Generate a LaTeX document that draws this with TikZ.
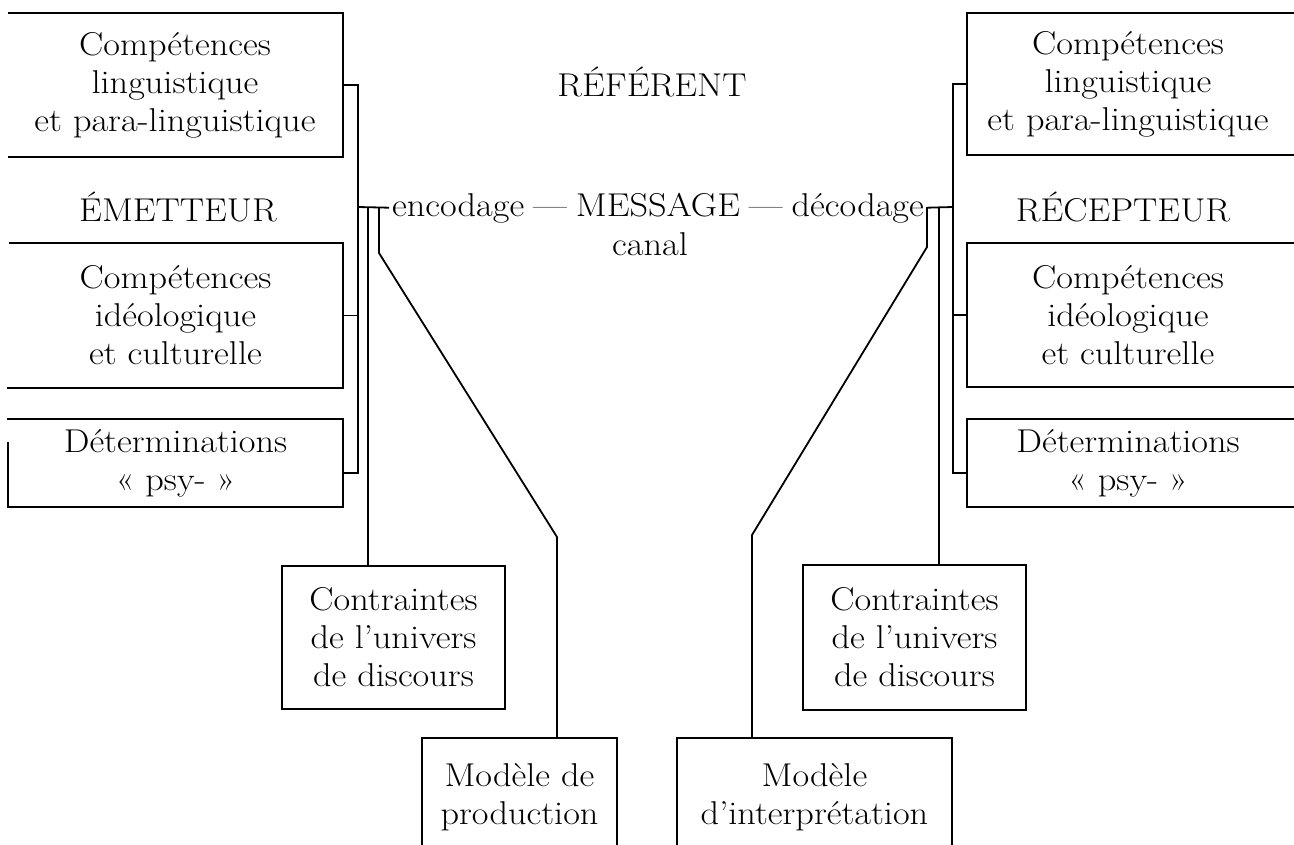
\documentclass[tikz,border=0pt]{standalone}
\usepackage{fontspec}
\setmainfont{Latin Modern Roman}[FakeStretch=1.1]
\usetikzlibrary{calc}
\begin{document}
\begin{tikzpicture}[x=1pt,y=-1pt,
  every node/.style={inner sep=0pt, outer sep=0pt},
  txt/.style={font=\fontsize{33}{38}\selectfont, align=center},
  box/.style={txt, rectangle},
  edge/.style={line width=1.8pt, line join=miter, line cap=rect},
  conn/.style={line width=1.8pt, line join=miter}]
\useasboundingbox (0,0) rectangle (1294,844);

% left column
\node[box, minimum width=336pt, minimum height=144pt] (L1) at (175,85)
  {Compétences\\linguistique\\et para-linguistique};
\node[txt] (emet) at (178,207) {ÉMETTEUR};
\node[box, minimum width=335pt, minimum height=145pt] (L2) at (175.5,315.5)
  {Compétences\\idéologique\\et culturelle};
\node[box, minimum width=335pt, minimum height=88pt] (L3) at (175.5,463)
  {Déterminations\\« psy- »};

% right column
\node[box, minimum width=322pt, minimum height=142pt] (R1) at (1128,84)
  {Compétences\\linguistique\\et para-linguistique};
\node[txt] (recep) at (1123,207) {RÉCEPTEUR};
\node[box, minimum width=322pt, minimum height=144pt] (R2) at (1128,315)
  {Compétences\\idéologique\\et culturelle};
\node[box, minimum width=322pt, minimum height=88pt] (R3) at (1128,463)
  {Déterminations\\« psy- »};

% centre
\node[txt] (ref) at (652,82) {RÉFÉRENT};
\node[txt, anchor=base] (msg) at (658,216) {encodage\;—\;MESSAGE\;—\;décodage};
\node[txt] (canal) at (650,244) {canal};

% lower boxes
\node[box, minimum width=223pt, minimum height=143pt] (cL) at (393.5,637.5)
  {Contraintes\\de l’univers\\de discours};
\node[box, minimum width=223pt, minimum height=145pt] (cR) at (914.5,637.5)
  {Contraintes\\de l’univers\\de discours};
\node[box, minimum width=195pt, minimum height=118pt] (mP) at (519.5,797)
  {Modèle de\\production};
\node[box, minimum width=275pt, minimum height=118pt] (mI) at (814.5,797)
  {Modèle\\d’interprétation};

% box outlines
\draw[edge] ([xshift=2pt]L1.north west) -- (L1.north east) -- (L1.south east) -- ([xshift=2pt]L1.south west);
\draw[edge] ([xshift=2pt]L2.north west) -- (L2.north east) -- (L2.south east) -- (L2.south west);
\draw[edge] ([yshift=20pt]L3.west) -- (L3.south west) -- (L3.south east) -- (L3.north east) -- (L3.north west);
\draw[edge] (1294,0 |- R1.north) -- (R1.north west) -- (R1.south west) -- (1294,0 |- R1.south);
\draw[edge] (1294,0 |- R2.north) -- (R2.north west) -- (R2.south west) -- (1294,0 |- R2.south);
\draw[edge] (1294,0 |- R3.north) -- (R3.north west) -- (R3.south west) -- (1294,0 |- R3.south);
\draw[edge] (cL.north west) rectangle (cL.south east);
\draw[edge] (cR.north west) rectangle (cR.south east);
\draw[edge] (mP.south west) -- (mP.north west) -- (mP.north east) -- (mP.south east);
\draw[edge] (mI.south west) -- (mI.north west) -- (mI.north east) -- (mI.south east);

% left connectors
\coordinate (jL) at (358,207);
\draw[conn] (L1.east) -| (358,473) -- (L3.east |- 0,473);
\draw[conn] (L2.east) -- (L2.east -| jL);
\draw[conn] (jL) -- ([xshift=-3pt]msg.west);
\coordinate (aL) at (368,207);
\draw[conn] (aL) -- (aL |- cL.north);
\coordinate (bL) at (379,207);
\draw[conn] (bL) -- (379,253) -- (557,537) -- (557,0 |- mP.north);

% right connectors
\coordinate (jR) at (953,207);
\draw[conn] (R1.west) -| (953,473) -- (R3.west |- 0,473);
\draw[conn] (R2.west) -- (R2.west -| jR);
\draw[conn] (jR) -- ([xshift=3pt]msg.east);
\coordinate (aR) at (939,207);
\draw[conn] (aR) -- (aR |- cR.north);
\coordinate (bR) at (927,207);
\draw[conn] (bR) -- (927,247) -- (752,535) -- (752,0 |- mI.north);
\end{tikzpicture}
\end{document}
